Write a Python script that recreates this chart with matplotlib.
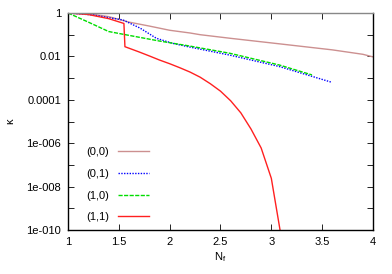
import numpy as np
import matplotlib
matplotlib.use('Agg')
import matplotlib.pyplot as plt
from matplotlib.ticker import FixedLocator, NullLocator

# curvas (N_f, kappa)
nf_00 = [1.0, 1.2, 1.4, 1.6, 1.8, 2.0, 2.2, 2.3, 2.6, 3.1, 3.6, 3.9, 4.0]
k_00 = [1.0, 0.93, 0.68, 0.38, 0.25, 0.16, 0.12, 0.1, 0.068, 0.037, 0.02,
        0.0125, 0.0095]

nf_01 = [1.0, 1.25, 1.41, 1.54, 1.71, 1.87, 2.03, 2.18, 2.59, 3.08, 3.59]
k_01 = [1.0, 0.81, 0.6, 0.48, 0.2, 0.068, 0.04, 0.028, 0.0115, 0.0034, 0.00065]

nf_10 = [1.0, 1.2, 1.4, 1.58, 1.9, 2.18, 2.59, 3.08, 3.4]
k_10 = [1.0, 0.38, 0.14, 0.097, 0.051, 0.031, 0.014, 0.004, 0.0014]

nf_11 = [1.0, 1.2, 1.4, 1.55, 1.56, 1.7, 1.8, 1.9, 2.0, 2.1, 2.2, 2.3, 2.4,
         2.5, 2.6, 2.7, 2.8, 2.9, 3.0, 3.1]
k_11 = [1.0, 0.85, 0.55, 0.33, 0.028, 0.016, 0.0105, 0.0068, 0.0046, 0.003,
        0.0019, 0.0011, 5.5e-4, 2.5e-4, 9e-5, 2.5e-5, 4.5e-6, 6e-7, 2.4e-8, 4e-11]

rotulos = ['(0,0)', '(0,1)', '(1,0)', '(1,1)']
yticks = [10.0**(-i) for i in range(0, 11)]
ylabels = ['1', '', '0.01', '', '0.0001', '', '1e-006', '', '1e-008', '', '1e-010']
xticks = [1, 1.5, 2, 2.5, 3, 3.5, 4]

plt.rcParams['font.family'] = ['Liberation Sans', 'DejaVu Sans']
plt.rcParams['font.size'] = 8

fig = plt.figure(figsize=(3.92, 2.74), dpi=100)
ax = fig.add_axes([68/392, 1 - 230/274, (373-68)/392, (230-13)/274])

ax.plot(nf_00, k_00, color='#cc9090', lw=1.0, label=rotulos[0])
ax.plot(nf_01, k_01, color='#0000ff', lw=1.0, ls=(0, (1, 1)), label=rotulos[1])
ax.plot(nf_10, k_10, color='#00dd00', lw=1.0, ls=(0, (3, 1)), label=rotulos[2])
ax.plot(nf_11, k_11, color='#ff2020', lw=1.0, label=rotulos[3])

ax.set_yscale('log')
ax.set_xlim(1, 4)
ax.set_ylim(1e-10, 1)
ax.yaxis.set_major_locator(FixedLocator(yticks))
ax.set_yticklabels(ylabels)
ax.yaxis.set_minor_locator(NullLocator())
ax.set_xticks(xticks)
ax.set_xticklabels(['1', '1.5', '2', '2.5', '3', '3.5', '4'])
ax.tick_params(direction='in', top=True, right=True, length=4, width=0.6, pad=5)
for s in ax.spines.values():
    s.set_linewidth(1.0)
ax.spines['top'].set_color('#888888')

ax.set_xlabel('N$_\\mathregular{f}$', labelpad=2)
ax.set_ylabel('κ', labelpad=8)

leg = ax.legend(loc='lower left', bbox_to_anchor=(0.035, 0.0), frameon=False,
                markerfirst=False, handlelength=2.8, labelspacing=1.05,
                handletextpad=0.8, borderaxespad=0.3)

fig.savefig('out.png', dpi=100)
